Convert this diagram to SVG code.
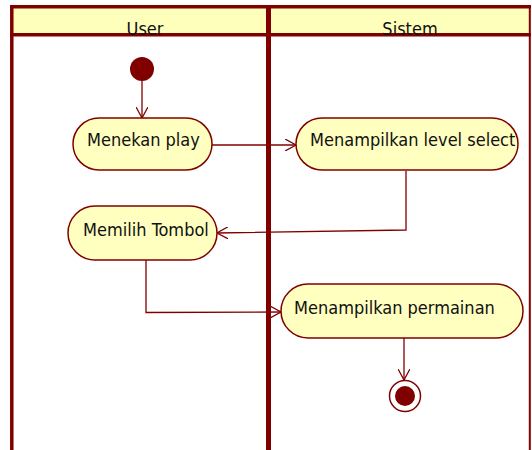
<svg xmlns="http://www.w3.org/2000/svg" width="532" height="450" viewBox="0 0 532 450">
<style>
.node{fill:#FFFFC0;stroke:#800000;stroke-width:1.5}
.lbl{font-family:"DejaVu Sans Condensed","DejaVu Sans",Verdana,sans-serif;font-stretch:condensed;font-size:18px;fill:#111}
.edge{fill:none;stroke:#800000;stroke-width:1.3}
.lane{fill:none;stroke:#800000}
</style>
<defs>
<marker id="arr" viewBox="0 0 12 12" refX="11" refY="6" markerWidth="12" markerHeight="12" markerUnits="userSpaceOnUse" orient="auto">
<path d="M0,0 L11,6 L0,12" fill="none" stroke="#800000" stroke-width="1.3"/>
</marker>
</defs>
<g id="swimlanes">
<rect x="12" y="7" width="517" height="27.5" fill="#FFFFBC"/>
<line class="lane" x1="11.8" y1="5" x2="11.8" y2="450" stroke-width="3.5"/>
<line class="lane" x1="10" y1="6.8" x2="531" y2="6.8" stroke-width="3.5"/>
<line class="lane" x1="10" y1="34.8" x2="531" y2="34.8" stroke-width="3.5"/>
<line class="lane" x1="268.5" y1="5" x2="268.5" y2="450" stroke-width="5"/>
<line class="lane" x1="529.8" y1="5" x2="529.8" y2="450" stroke-width="2"/>
<text class="lbl" x="145" y="35" text-anchor="middle">User</text>
<text class="lbl" x="410" y="35" text-anchor="middle">Sistem</text>
</g>
<g id="connectors">
<line class="edge" x1="142" y1="81" x2="142" y2="118" marker-end="url(#arr)"/>
<line class="edge" x1="212" y1="145" x2="296" y2="145" marker-end="url(#arr)"/>
<polyline class="edge" points="406,171 406,230 217,233" marker-end="url(#arr)"/>
<polyline class="edge" points="146,260 146,312.5 281,312" marker-end="url(#arr)"/>
<line class="edge" x1="404" y1="338" x2="404" y2="380" marker-end="url(#arr)"/>
</g>
<g id="start">
<circle cx="142" cy="69" r="12" fill="#800000"/>
</g>
<g id="menekan-play">
<rect class="node" x="73" y="118" width="139" height="52" rx="26"/>
<text class="lbl" x="87" y="146">Menekan play</text>
</g>
<g id="menampilkan-level-select">
<rect class="node" x="296" y="118" width="222" height="52" rx="26"/>
<text class="lbl" x="310" y="146">Menampilkan level select</text>
</g>
<g id="memilih-tombol">
<rect class="node" x="68" y="206" width="149" height="54" rx="27"/>
<text class="lbl" x="83" y="236">Memilih Tombol</text>
</g>
<g id="menampilkan-permainan">
<rect class="node" x="281" y="284" width="242" height="54" rx="27"/>
<text class="lbl" x="294" y="314">Menampilkan permainan</text>
</g>
<g id="end">
<circle cx="405" cy="396" r="15.5" fill="#fff" stroke="#800000" stroke-width="1.5"/>
<circle cx="405" cy="396" r="10" fill="#800000"/>
</g>
</svg>
